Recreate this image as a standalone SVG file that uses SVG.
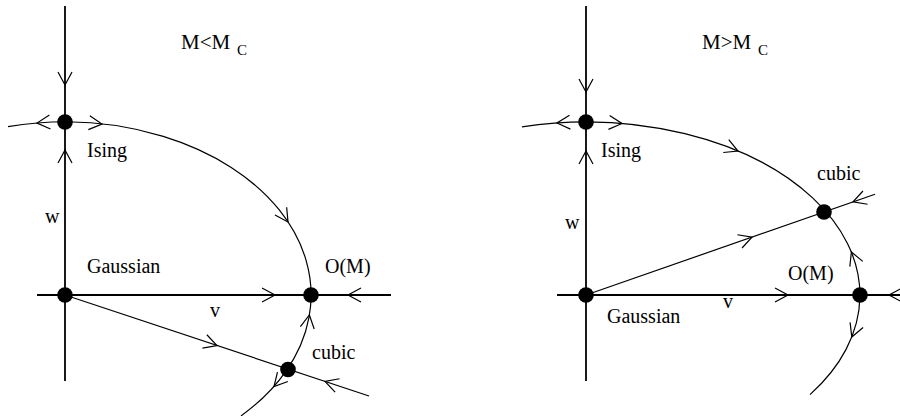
<svg xmlns="http://www.w3.org/2000/svg" xmlns:xlink="http://www.w3.org/1999/xlink" width="900" height="416" viewBox="0 0 900 416">
<style>
.axis{stroke:#000;stroke-width:1.8;fill:none}
.flow{stroke:#000;stroke-width:1.2;fill:none}
.chev{stroke:#000;stroke-width:1.2;fill:none}
.dot{fill:#000}
text{font-family:"Liberation Serif","Times New Roman",serif;font-size:20px;fill:#000}
.title{font-size:21px}
.sub{font-size:15px}
</style>
<defs>
<path id="chev" d="M-13,-7 L0,0 L-13,7" class="chev"/>
</defs>
<rect width="900" height="416" fill="#fff"/>
<g id="connectors">
<!-- left panel -->
<line class="axis" x1="65" y1="6" x2="65" y2="381"/>
<line class="axis" x1="37" y1="295" x2="391" y2="295"/>
<path class="flow" d="M8,126.7 A246,173 0 0 1 241,415.9"/>
<line class="flow" x1="65" y1="295" x2="369" y2="396"/>
<use xlink:href="#chev" transform="translate(65,85) rotate(90)"/>
<use xlink:href="#chev" transform="translate(65,150) rotate(-90)"/>
<use xlink:href="#chev" transform="translate(37,123.1) rotate(175.4)"/>
<use xlink:href="#chev" transform="translate(102,124) rotate(6.1)"/>
<use xlink:href="#chev" transform="translate(288,222) rotate(56.5)"/>
<use xlink:href="#chev" transform="translate(275,295) rotate(0)"/>
<use xlink:href="#chev" transform="translate(348,295) rotate(180)"/>
<use xlink:href="#chev" transform="translate(309.4,315) rotate(-80.6)"/>
<use xlink:href="#chev" transform="translate(217,345.5) rotate(18.4)"/>
<use xlink:href="#chev" transform="translate(325,381.3) rotate(198.4)"/>
<use xlink:href="#chev" transform="translate(274,386.5) rotate(131.9)"/>
<!-- right panel -->
<line class="axis" x1="586" y1="6" x2="586" y2="381"/>
<line class="axis" x1="557" y1="295" x2="900" y2="295"/>
<path class="flow" d="M522,126.8 A274,173 0 0 1 810,394.6"/>
<line class="flow" x1="586" y1="295" x2="875" y2="194.2"/>
<use xlink:href="#chev" transform="translate(586,92) rotate(90)"/>
<use xlink:href="#chev" transform="translate(586,151) rotate(-90)"/>
<use xlink:href="#chev" transform="translate(557,123) rotate(176.2)"/>
<use xlink:href="#chev" transform="translate(622,123.5) rotate(4.8)"/>
<use xlink:href="#chev" transform="translate(738,151.1) rotate(22.8)"/>
<use xlink:href="#chev" transform="translate(853,201.9) rotate(160.8)"/>
<use xlink:href="#chev" transform="translate(752,237.1) rotate(-19.2)"/>
<use xlink:href="#chev" transform="translate(851.4,252) rotate(-112.1)"/>
<use xlink:href="#chev" transform="translate(788,295) rotate(0)"/>
<use xlink:href="#chev" transform="translate(889,295) rotate(180)"/>
<use xlink:href="#chev" transform="translate(851.8,337) rotate(111.6)"/>
</g>
<g id="left-title"><text class="title" x="181" y="48.5">M&lt;M</text><text class="sub" x="237" y="55">C</text></g>
<g id="left-ising"><circle class="dot" cx="65" cy="122" r="7.8"/><text x="87" y="157">Ising</text></g>
<g id="left-gaussian"><circle class="dot" cx="65" cy="295" r="7.8"/><text x="87" y="273">Gaussian</text></g>
<g id="left-om"><circle class="dot" cx="311" cy="295" r="7.8"/><text x="325" y="273">O(M)</text></g>
<g id="left-cubic"><circle class="dot" cx="288" cy="369.5" r="7.8"/><text x="312" y="359">cubic</text></g>
<g id="left-labels"><text x="45" y="223">w</text><text x="210" y="317">v</text></g>
<g id="right-title"><text class="title" x="702" y="48.5">M&gt;M</text><text class="sub" x="758" y="55">C</text></g>
<g id="right-ising"><circle class="dot" cx="586" cy="122" r="7.8"/><text x="601" y="157">Ising</text></g>
<g id="right-gaussian"><circle class="dot" cx="586" cy="295" r="7.8"/><text x="607" y="323">Gaussian</text></g>
<g id="right-om"><circle class="dot" cx="860" cy="295" r="7.8"/><text x="788" y="280">O(M)</text></g>
<g id="right-cubic"><circle class="dot" cx="824" cy="212" r="7.8"/><text x="817" y="180">cubic</text></g>
<g id="right-labels"><text x="565" y="229">w</text><text x="723" y="308">v</text></g>
</svg>
